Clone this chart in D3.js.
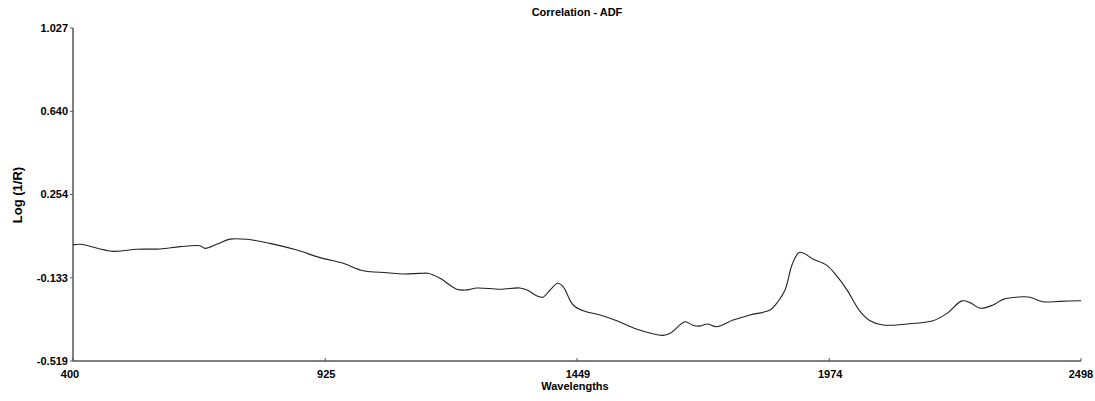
<!DOCTYPE html>
<html>
<head>
<meta charset="utf-8">
<script src="https://cdn.jsdelivr.net/npm/d3@7"></script>
<style>
  html, body { margin: 0; padding: 0; background: #fff; }
  svg { display: block; }
  text { font-family: "Liberation Sans", Arial, sans-serif; font-weight: bold; fill: #000; }
</style>
</head>
<body>
<svg id="chart" width="1095" height="401"></svg>
<script>
const title = "Correlation - ADF";
const xTitle = "Wavelengths";
const yTitle = "Log (1/R)";
const xTicks = [400, 925, 1449, 1974, 2498];
const yTicks = [-0.519, -0.133, 0.254, 0.640, 1.027];
const wavelengths = [400, 415, 483, 533, 581, 623, 664, 675, 700, 727, 762, 810, 866, 914, 962, 1004, 1054, 1087, 1122, 1139, 1164, 1199, 1220, 1241, 1289, 1330, 1345, 1366, 1378, 1393, 1409, 1420, 1441, 1462, 1497, 1532, 1574, 1628, 1643, 1674, 1690, 1705, 1720, 1740, 1774, 1809, 1851, 1867, 1882, 1897, 1911, 1921, 1940, 1969, 1990, 2011, 2037, 2058, 2086, 2136, 2190, 2219, 2250, 2267, 2288, 2315, 2336, 2377, 2392, 2419, 2454, 2498];
const values = [0.020, 0.023, -0.010, 0.000, 0.001, 0.012, 0.016, 0.004, 0.024, 0.047, 0.046, 0.027, -0.004, -0.039, -0.065, -0.100, -0.109, -0.115, -0.112, -0.112, -0.135, -0.186, -0.189, -0.180, -0.186, -0.180, -0.189, -0.217, -0.223, -0.189, -0.158, -0.174, -0.259, -0.286, -0.305, -0.332, -0.372, -0.400, -0.390, -0.337, -0.353, -0.357, -0.347, -0.360, -0.329, -0.305, -0.282, -0.244, -0.189, -0.070, -0.015, -0.019, -0.045, -0.075, -0.125, -0.189, -0.285, -0.331, -0.352, -0.347, -0.332, -0.298, -0.240, -0.248, -0.274, -0.259, -0.233, -0.221, -0.223, -0.244, -0.242, -0.239];

(function () {
const svg = d3.select("#chart");
const mLeft = 73, mRight = 1081, mTop = 28, mBottom = 361;
const x = d3.scaleLinear().domain([400, 2498]).range([mLeft, mRight]);
const y = d3.scaleLinear().domain([-0.519, 1.027]).range([mBottom, mTop]);

// axes lines
svg.append("line").attr("x1", mLeft).attr("x2", mLeft).attr("y1", mTop).attr("y2", mBottom)
  .attr("stroke", "#555").attr("stroke-width", 1.5);
svg.append("line").attr("x1", mLeft).attr("x2", mRight).attr("y1", mBottom).attr("y2", mBottom)
  .attr("stroke", "#555").attr("stroke-width", 1.5);

// y ticks
const yg = svg.append("g");
yTicks.forEach(v => {
  yg.append("line").attr("x1", mLeft - 3).attr("x2", mLeft).attr("y1", y(v)).attr("y2", y(v))
    .attr("stroke", "#555");
  yg.append("text").attr("x", mLeft - 5).attr("y", y(v)).attr("dy", "0.35em")
    .attr("text-anchor", "end").attr("font-size", 11).text(v.toFixed(3));
});

// x ticks
const xg = svg.append("g");
xTicks.forEach(v => {
  xg.append("line").attr("x1", x(v)).attr("x2", x(v)).attr("y1", mBottom - 3).attr("y2", mBottom)
    .attr("stroke", "#555");
  xg.append("text").attr("x", x(v) - (v === 400 ? 3 : (v === 2498 ? 0 : -1))).attr("y", mBottom + 17)
    .attr("text-anchor", "middle").attr("font-size", 11).text(v);
});

// titles
svg.append("text").attr("x", 577).attr("y", 16).attr("text-anchor", "middle")
  .attr("font-size", 11).text(title);
svg.append("text").attr("x", 575).attr("y", 390).attr("text-anchor", "middle")
  .attr("font-size", 11).text(xTitle);
svg.append("text").attr("transform", "translate(22,195) rotate(-90)")
  .attr("text-anchor", "middle").attr("font-size", 13).text(yTitle);

// curve
const line = d3.line()
  .x((d, i) => x(wavelengths[i]))
  .y(d => y(d))
  .curve(d3.curveCatmullRom.alpha(0.5));
svg.append("path").datum(values).attr("d", line)
  .attr("fill", "none").attr("stroke", "#222").attr("stroke-width", 1.1);
})();
</script>
</body>
</html>
